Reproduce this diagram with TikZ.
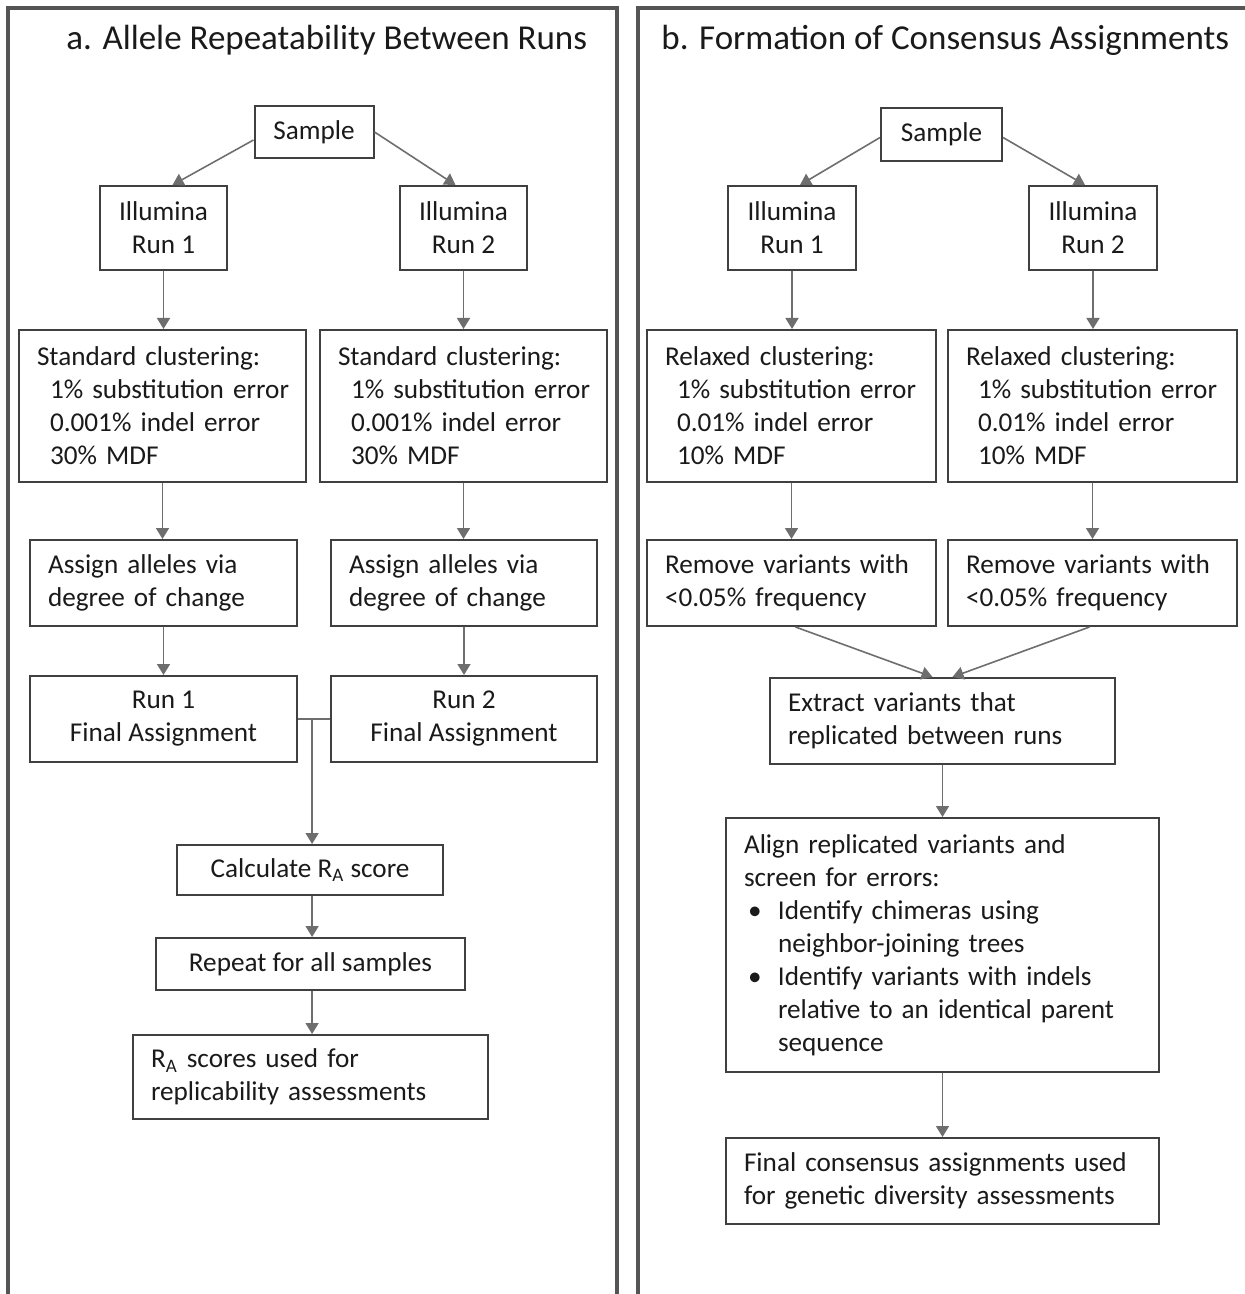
\documentclass[tikz,border=0pt]{standalone}
\usepackage{fontspec}
\setmainfont{Carlito}
\usetikzlibrary{arrows.meta,calc}
\definecolor{boxc}{HTML}{404040}
\definecolor{arrc}{HTML}{6E6E6E}
\definecolor{panelc}{HTML}{555555}
\definecolor{txt}{HTML}{1A1A1A}
\begin{document}
\begin{tikzpicture}[x=1pt,y=-1pt,
  box/.style={draw=boxc, line width=1pt, fill=white, inner xsep=9pt, inner ysep=2pt,
    font=\fontsize{13.6}{16.5}\selectfont, text=txt},
  lbox/.style={box, align=left, text width=#1},
  cbox/.style={box, align=center},
  arr/.style={draw=arrc, line width=0.8pt, -{Triangle[width=6.5pt,length=5.5pt]}},
  ln/.style={draw=arrc, line width=0.8pt},
  panel/.style={draw=panelc, line width=1.6pt},
  ttl/.style={anchor=base west, font=\fontsize{17.5}{20}\selectfont, text=txt, inner sep=0pt}]
\useasboundingbox (0,0) rectangle (622,647);
% panels
\draw[panel] (4,648) -- (4,4) -- (308.5,4) -- (308.5,648);
\draw[panel] (319,648) -- (319,4) -- (623,4);
\node[ttl] (ta) at (33,25) {a. Allele Repeatability Between Runs};
\node[ttl] (tb) at (330.5,25) {b. Formation of Consensus Assignments};
% ---------- left panel ----------
\node[cbox, minimum width=59.5pt, minimum height=26pt] (s1) at (157,66) {Sample};
\node[cbox, minimum width=63.5pt, minimum height=42pt] (i1) at (81.75,114) {Illumina\\Run 1};
\node[cbox, minimum width=63.5pt, minimum height=42pt] (i2) at (231.75,114) {Illumina\\Run 2};
\node[lbox=125.5pt, minimum height=76pt] (c1) at (81.25,203) {\mbox{Standard clustering:}\\\mbox{\hspace*{6.5pt}1\% substitution error}\\\mbox{\hspace*{6.5pt}0.001\% indel error}\\\mbox{\hspace*{6.5pt}30\% MDF}};
\node[lbox=125.5pt, minimum height=76pt] (c2) at (231.75,203) {\mbox{Standard clustering:}\\\mbox{\hspace*{6.5pt}1\% substitution error}\\\mbox{\hspace*{6.5pt}0.001\% indel error}\\\mbox{\hspace*{6.5pt}30\% MDF}};
\node[lbox=115.5pt, minimum height=43pt] (a1) at (81.75,291.5) {Assign alleles via\\degree of change};
\node[lbox=115pt, minimum height=43pt] (a2) at (232,291.5) {Assign alleles via\\degree of change};
\node[cbox, minimum width=133.5pt, minimum height=43pt] (f1) at (81.75,359.5) {Run 1\\Final Assignment};
\node[cbox, minimum width=133pt, minimum height=43pt] (f2) at (232,359.5) {Run 2\\Final Assignment};
\node[cbox, minimum width=133pt, minimum height=25pt] (calc) at (155,435) {Calculate R\textsubscript{A} score};
\node[cbox, minimum width=154.5pt, minimum height=26pt] (rep) at (155.25,482) {Repeat for all samples};
\node[lbox=159.5pt, minimum height=42pt] (ra) at (155.25,538.5) {R\textsubscript{A} scores used for\\replicability assessments};
\draw[arr] ([yshift=-4pt]s1.west) -- ([xshift=4.5pt]i1.north);
\draw[arr] (s1.east) -- ([xshift=-4pt]i2.north);
\draw[arr] (i1.south) -- (i1.south |- c1.north);
\draw[arr] (i2.south) -- (i2.south |- c2.north);
\draw[arr] (c1.south) -- (c1.south |- a1.north);
\draw[arr] (c2.south) -- (c2.south |- a2.north);
\draw[arr] (a1.south) -- (a1.south |- f1.north);
\draw[arr] (a2.south) -- (a2.south |- f2.north);
\draw[ln] (f1.east) -- (f2.west);
\coordinate (jn) at ($(f1.east)!0.44!(f2.west)$);
\draw[arr] (jn) -- (jn |- calc.north);
\draw[arr] (jn |- calc.south) -- (jn |- rep.north);
\draw[arr] (jn |- rep.south) -- (jn |- ra.north);
% ---------- right panel ----------
\node[cbox, minimum width=60.5pt, minimum height=26.5pt] (s2) at (470.75,67.25) {Sample};
\node[cbox, minimum width=64pt, minimum height=42pt] (j1) at (396,114) {Illumina\\Run 1};
\node[cbox, minimum width=64pt, minimum height=42pt] (j2) at (546.5,114) {Illumina\\Run 2};
\node[lbox=126.5pt, minimum height=76pt] (r1) at (395.75,203) {\mbox{Relaxed clustering:}\\\mbox{\hspace*{6pt}1\% substitution error}\\\mbox{\hspace*{6pt}0.01\% indel error}\\\mbox{\hspace*{6pt}10\% MDF}};
\node[lbox=126.5pt, minimum height=76pt] (r2) at (546.25,203) {\mbox{Relaxed clustering:}\\\mbox{\hspace*{6pt}1\% substitution error}\\\mbox{\hspace*{6pt}0.01\% indel error}\\\mbox{\hspace*{6pt}10\% MDF}};
\node[lbox=126.5pt, minimum height=43pt] (m1) at (395.75,291.5) {Remove variants with\\<0.05\% frequency};
\node[lbox=126.5pt, minimum height=43pt] (m2) at (546.25,291.5) {Remove variants with\\<0.05\% frequency};
\node[lbox=154.5pt, minimum height=43pt] (ex) at (471.25,360.5) {Extract variants that\\replicated between runs};
\node[lbox=198.5pt, minimum height=127pt] (al) at (471.25,472.5) {Align replicated variants and\\screen for errors:\\\makebox[17pt][l]{\hspace{2pt}\textbullet}Identify chimeras using\\\hspace*{17pt}neighbor-joining trees\\\makebox[17pt][l]{\hspace{2pt}\textbullet}Identify variants with indels\\\hspace*{17pt}relative to an identical parent\\\hspace*{17pt}sequence};
\node[lbox=198.5pt, minimum height=43pt] (fc) at (471.25,590.5) {Final consensus assignments used\\for genetic diversity assessments};
\draw[arr] ([yshift=-1.5pt]s2.west) -- ([xshift=4pt]j1.north);
\draw[arr] ([yshift=-1.5pt]s2.east) -- ([xshift=-4pt]j2.north);
\draw[arr] (j1.south) -- (j1.south |- r1.north);
\draw[arr] (j2.south) -- (j2.south |- r2.north);
\draw[arr] (r1.south) -- (r1.south |- m1.north);
\draw[arr] (r2.south) -- (r2.south |- m2.north);
\draw[arr] ([xshift=2pt]m1.south) -- ([xshift=-5pt]ex.north);
\draw[arr] ([xshift=-1.5pt]m2.south) -- ([xshift=5pt]ex.north);
\draw[arr] (ex.south) -- (ex.south |- al.north);
\draw[arr] (al.south) -- (al.south |- fc.north);
\end{tikzpicture}
\end{document}
